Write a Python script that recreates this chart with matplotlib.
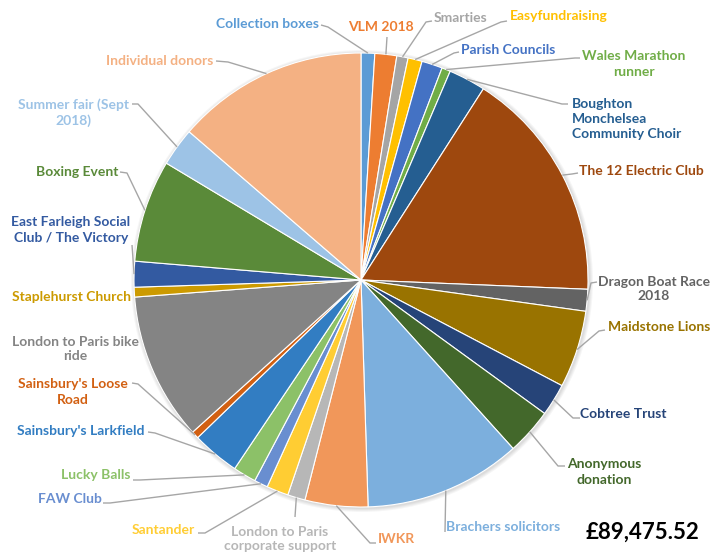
import numpy as np
import matplotlib
matplotlib.use("Agg")
import matplotlib.pyplot as plt
from matplotlib.patches import Circle

plt.rcParams['font.family'] = ['Lato', 'DejaVu Sans']

# donations (GBP), clockwise from 12 o'clock
sources = ["Collection boxes", "VLM 2018", "Smarties", "Easyfundraising",
           "Parish Councils", "Wales Marathon\nrunner",
           "Boughton\nMonchelsea\nCommunity Choir", "The 12 Electric Club",
           "Dragon Boat Race\n2018", "Maidstone Lions", "Cobtree Trust",
           "Anonymous\ndonation", "Brachers solicitors", "IWKR",
           "London to Paris\ncorporate support", "Santander", "FAW Club",
           "Lucky Balls", "Sainsbury's Larkfield", "Sainsbury's Loose\nRoad",
           "London to Paris bike\nride", "Staplehurst Church",
           "East Farleigh Social\nClub / The Victory", "Boxing Event",
           "Summer fair (Sept\n2018)", "Individual donors"]
amounts = [870, 1390, 720, 900, 1320, 550, 2360, 14840, 1390, 4920, 2060,
           2960, 10010, 4000, 1120, 1390, 870, 1470, 3030, 470, 9390, 620,
           1640, 6510, 2440, 12230]
total_text = "£89,475.52"

colors = ["#5B9BD5", "#ED7D31", "#A5A5A5", "#FFC000", "#4472C4", "#70AD47",
          "#255E91", "#9E480E", "#636363", "#997300", "#264478", "#43682B",
          "#7CAFDD", "#F1975A", "#B7B7B7", "#FFCD33", "#698ED0", "#8CC168",
          "#327DC2", "#D26012", "#848484", "#CC9A00", "#335AA1", "#5A8A39",
          "#9DC3E6", "#F4B183"]

# label layout in pixel coords: (x, y, ha, leader start, elbow)
layout = [
    (267, 24, 'center', (321, 25), (328, 27)),
    (381, 27, 'center', (387, 37), None),
    (461, 18, 'center', (432, 21), (426, 22)),
    (559, 16, 'center', (507, 21), (501, 22)),
    (508, 50, 'center', (459, 52), (454, 53)),
    (634, 64, 'center', (580, 58), (575, 58)),
    (572, 119, 'left', (568, 104), (562, 104)),
    (641, 171, 'center', (578, 173), (572, 174)),
    (654, 289, 'center', (597, 282), (591, 283)),
    (659, 327, 'center', (605, 330), (599, 331)),
    (623, 414, 'center', (580, 418), (573, 418)),
    (604, 472, 'center', (565, 466), (558, 466)),
    (503, 527, 'center', (445, 532), None),
    (396, 539, 'center', (376, 543), (370, 543)),
    (280, 539, 'center', (295, 517), None),
    (163, 530, 'center', (198, 533), (205, 533)),
    (70, 499, 'center', (103, 503), (110, 503)),
    (96, 475, 'center', (133, 480), (140, 480)),
    (81, 431, 'center', (148, 432), (155, 433)),
    (73, 392, 'center', (132, 383), (138, 384)),
    (75, 349, 'center', None, None),
    (71, 297, 'center', None, None),
    (71, 230, 'center', (132, 245), None),
    (77, 172, 'center', (120, 172), (127, 173)),
    (73, 113, 'center', (132, 104), (138, 104)),
    (160, 61, 'center', (216, 61), (228, 62)),
]

W, H = 710, 556
cx, cy, r = 361, 280, 227

fig = plt.figure(figsize=(W / 100, H / 100), dpi=100)
ax = fig.add_axes([0, 0, 1, 1])

# soft shadow under the pie
for k in range(1, 5):
    ax.add_patch(Circle((cx + 1, cy + 1), r + k, color='black',
                        alpha=0.035, lw=0, zorder=0))

# y axis is flipped, so counterclock in data = clockwise on screen
wedges, _ = ax.pie(amounts, colors=colors, startangle=-90, counterclock=True,
                   center=(cx, cy), radius=r,
                   wedgeprops=dict(edgecolor='white', linewidth=0.8))
for w in wedges:
    w.set_zorder(2)
ax.set_xlim(0, W)
ax.set_ylim(H, 0)
ax.set_aspect('auto')
ax.axis('off')

vals = np.array(amounts, dtype=float)
mids = (np.cumsum(vals) - vals / 2) / vals.sum() * 2 * np.pi

for i, (name, col) in enumerate(zip(sources, colors)):
    x, y, ha, start, elbow = layout[i]
    ax.text(x, y, name, color=col, fontsize=10, fontweight='bold',
            ha=ha, va='center', linespacing=1.3, multialignment=ha)
    if start is not None:
        px = cx + r * np.sin(mids[i])
        py = cy - r * np.cos(mids[i])
        pts = [start] + ([elbow] if elbow else []) + [(px, py)]
        xs, ys = zip(*pts)
        ax.plot(xs, ys, color='#A6A6A6', lw=1.0, solid_capstyle='butt',
                zorder=3)

ax.text(643, 532, total_text, color='black', fontsize=16, fontweight='bold',
        ha='center', va='center')

fig.savefig("out.png", dpi=100)
